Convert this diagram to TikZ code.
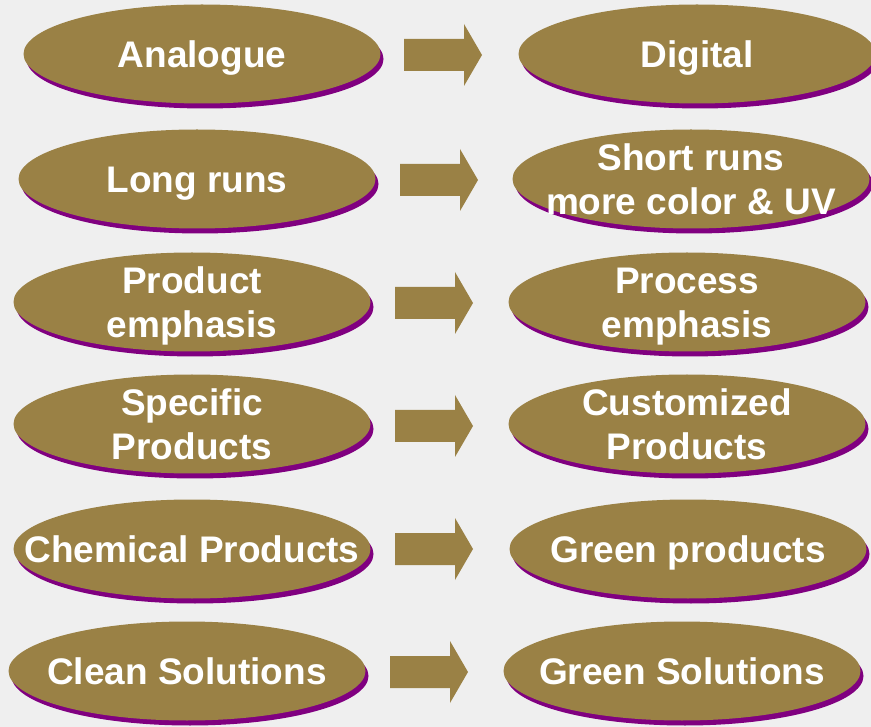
\documentclass[tikz,border=0pt]{standalone}
\usepackage{fontspec}
\setmainfont{Liberation Sans}
\usepackage{tikz}
\usetikzlibrary{shapes.geometric}
\usetikzlibrary{shadows}

\definecolor{olivebox}{HTML}{9A8145}
\definecolor{shadowpurple}{HTML}{800080}
\definecolor{backgray}{HTML}{EFEFEF}

\begin{document}
\begin{tikzpicture}[x=1pt, y=-1pt,
	oval/.style={ellipse, fill=olivebox, minimum width=357pt, minimum height=99pt, inner sep=-150pt,
		text=white, font=\fontsize{37}{44}\selectfont\bfseries, align=center, text depth=0pt,
		drop shadow={shadow xshift=3pt, shadow yshift=-5pt, fill=shadowpurple, opacity=1}},
	oneline/.style={oval, text height=26.5pt},
	twoline/.style={oval, text height=70.5pt}]
		\fill[backgray] (0,0) rectangle (871,727);
		\useasboundingbox (0,0) rectangle (871,727);
		% old
		\node[oneline] at (202,54) (analogue) {Analogue};
		\node[oneline] at (197,179) (long) {Long runs};
		\node[twoline] at (192,302) (product) {Product\\emphasis};
		\node[twoline] at (192,424) (specific) {Specific\\Products};
		\node[oneline] at (192,549) (chemical) {Chemical Products};
		\node[oneline] at (187,671) (clean) {Clean Solutions};
		% new
		\node[oneline] at (697,54) (digital) {Digital};
		\node[twoline] at (691,179) (short) {Short runs\\more color \& UV};
		\node[twoline] at (687,302) (process) {Process\\emphasis};
		\node[twoline] at (687,424) (customized) {Customized\\Products};
		\node[oneline] at (688,549) (greenprod) {Green products};
		\node[oneline] at (682,671) (greensol) {Green Solutions};
		% block arrows
		\coordinate (a1) at (404,55);
		\coordinate (a2) at (400,180);
		\coordinate (a3) at (395,303);
		\coordinate (a4) at (395,426);
		\coordinate (a5) at (395,549);
		\coordinate (a6) at (390,672);
		\foreach \a in {a1,a2,a3,a4,a5,a6}
			\fill[olivebox] (\a) ++(0,-16) -- ++(60,0) -- ++(0,-15) -- ++(18,31) -- ++(-18,31) -- ++(0,-15) -- ++(-60,0) -- cycle;
	\end{tikzpicture}
\end{document}
